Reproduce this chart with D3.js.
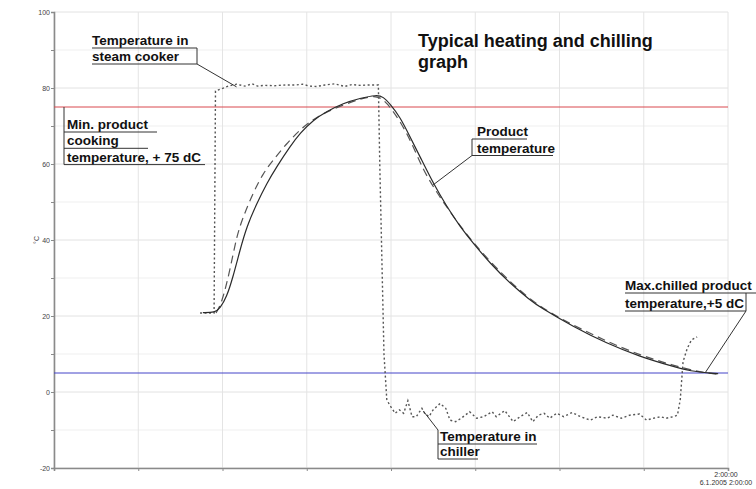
<!DOCTYPE html>
<html>
<head>
<meta charset="utf-8">
<script src="https://cdn.jsdelivr.net/npm/d3@7"></script>
<style>
  body { margin: 0; background: #fff; }
  svg { display: block; font-family: "Liberation Sans", Arial, sans-serif; }
  .callout text { font-size: 13.5px; font-weight: bold; fill: #111; }
  .callout line { stroke: #333; stroke-width: 1; }
</style>
</head>
<body>
<div id="chart"></div>
<script>
// minutes from start of record, degrees C
const productTime = [106,114.7,118.2,123,127.5,132.5,137.2,144.4,151.5,158.6,168.1,175.2,184.7,194.2,206,217.9,229.8,234.5,239.3,246.4,253.5,260.7,270.1,279.7,289.2,298.6,310.5,324.8,339,346.1,369.8,393.6,417.3,441.1,452.9,469.6,473];
const productTemp = [20.9,20.9,22,25,30.3,37.4,43.5,49.6,54.9,59.3,64.6,68.1,71.6,73.8,76,77.3,78.2,77.7,75.8,72.4,67.2,61.9,54.9,48.8,43.5,39.1,33.9,28.6,24.2,22.3,17.2,12.8,9.3,6.7,5.5,4.9,4.8];

const probe2Time = [115.4,119.6,125.3,130,134.6,141.7,148.8,156,165.7,175.2,184.5,196.6,217.9,229.8,236.5,247.6,255.9,263,271.4,282,298.4,324.8,346,369.6,393.8,417.3,440.9,460,472.2];
const probe2Temp = [20.8,23.5,32,40.9,46,52.3,57.5,61,65.4,69,71.8,74.2,77.2,78.1,76.5,70.7,64.6,58.4,53.2,47.4,39.1,28.8,22.3,17.6,13.3,9.7,7,5.2,4.7];

const cabinetTime = [104,114,115,120,124,130,136,141,145,150,157,165,172,177,182,187,193,200,207,212,218,225,231,232,235,237,239,243,246,249,252,255,258,262,264,267,270,275,279,282,286,290,296,301,306,312,315,321,327,332,337,341,345,349,353,358,363,369,375,382,387,394,398,404,410,417,422,427,432,436,441,444,446,447,448,451,454,458];
const cabinetTemp = [20.8,20.8,79.2,79.9,80.5,81,80.5,81.1,80.5,80.7,80.6,80.8,80.8,81,80.5,80.4,80.8,81.1,80.4,80.9,80.7,80.8,80.8,60,10,-2,-3.4,-5.6,-4.7,-5.6,-2.3,-6.5,-6.5,-4.3,-5.6,-6.5,-4.7,-3,-4.3,-7.4,-7.8,-6.9,-5.2,-6.9,-6.5,-5.2,-6.5,-4.9,-7.8,-6.5,-5.4,-7.8,-6.1,-5.6,-6.9,-5.6,-6.5,-5.4,-6.5,-7.4,-6.5,-6.9,-6.1,-6.9,-6.1,-5.8,-7.4,-6.9,-6.5,-6.9,-6.5,-6.1,-2,3,8,11.5,13.7,14.5];

const minCooking = 75;
const maxChilled = 5;

const yTicks = [-20,-10,0,10,20,30,40,50,60,70,80,90,100];
const xTicks = [0,60,120,180,240,300,360,420,480];
const xEndLabel = ["2:00:00", "6.1.2005 2:00:00"];

const titleLines = ["Typical heating and chilling", "graph"];
const steamLabel = ["Temperature in", "steam cooker"];
const minLabel = ["Min. product", "cooking", "temperature, + 75 dC"];
const productLabel = ["Product", "temperature"];
const chilledLabel = ["Max.chilled product", "temperature,+5 dC"];
const chillerLabel = ["Temperature in", "chiller"];

const W = 756, H = 489;
const svg = d3.select("#chart").append("svg")
    .attr("width", W)
    .attr("height", H);

const x = d3.scaleLinear().domain([0, 480]).range([54, 728]);
const y = d3.scaleLinear().domain([-20, 100]).range([468, 12]);

// grid
svg.append("g")
    .selectAll("line")
    .data(yTicks)
    .enter().append("line")
    .attr("x1", x(0)).attr("x2", x(480))
    .attr("y1", d => y(d)).attr("y2", d => y(d))
    .attr("stroke", d => d % 20 == 0 ? "#e2e2e2" : "#efefef")
    .attr("stroke-width", 1);

svg.append("g")
    .selectAll("line")
    .data(xTicks)
    .enter().append("line")
    .attr("x1", d => x(d)).attr("x2", d => x(d))
    .attr("y1", y(100)).attr("y2", y(-20))
    .attr("stroke", "#e4e4e4")
    .attr("stroke-width", 1);

// axes
const yAxis = svg.append("g")
    .attr("transform", `translate(${x(0)},0)`)
    .call(d3.axisLeft(y)
        .tickValues(yTicks)
        .tickSize(3)
        .tickFormat(d => d % 20 == 0 ? d : ""));
yAxis.select(".domain").attr("stroke", "#8a8a8a").attr("stroke-width", 1.6);
yAxis.selectAll(".tick line").attr("stroke", "#8a8a8a");
yAxis.selectAll(".tick text").attr("font-size", "7px").attr("fill", "#444").attr("x", -4);

const xAxis = svg.append("g")
    .attr("transform", `translate(0,${y(-20)})`)
    .call(d3.axisBottom(x)
        .tickValues(xTicks)
        .tickSize(3)
        .tickFormat(""));
xAxis.select(".domain").attr("stroke", "#8a8a8a").attr("stroke-width", 1.6);
xAxis.selectAll(".tick line").attr("stroke", "#8a8a8a");

svg.selectAll(".xend")
    .data(xEndLabel)
    .enter().append("text")
    .attr("class", "xend")
    .attr("x", x(480) - 2)
    .attr("y", (d, i) => y(-20) + 9 + i * 7.5)
    .attr("text-anchor", "middle")
    .attr("font-size", "7px")
    .attr("fill", "#333")
    .text(d => d);

svg.append("text")
    .attr("transform", `translate(39,${y(40)}) rotate(-90)`)
    .attr("text-anchor", "middle")
    .attr("font-size", "7px")
    .attr("fill", "#444")
    .text("°C");

// limit lines
svg.append("line")
    .attr("x1", x(0)).attr("x2", x(480))
    .attr("y1", y(minCooking)).attr("y2", y(minCooking))
    .attr("stroke", "#d9484e").attr("stroke-width", 1);
svg.append("line")
    .attr("x1", x(0)).attr("x2", x(480))
    .attr("y1", y(maxChilled)).attr("y2", y(maxChilled))
    .attr("stroke", "#4545c8").attr("stroke-width", 1);

// series
const line = d3.line()
    .x(d => x(d[0]))
    .y(d => y(d[1]))
    .curve(d3.curveBasis);

svg.append("path")
    .datum(d3.zip(cabinetTime, cabinetTemp))
    .attr("fill", "none")
    .attr("stroke", "#555")
    .attr("stroke-width", 1.4)
    .attr("stroke-dasharray", "2,2.5")
    .attr("d", d3.line().x(d => x(d[0])).y(d => y(d[1])));

svg.append("path")
    .datum(d3.zip(probe2Time, probe2Temp))
    .attr("fill", "none")
    .attr("stroke", "#555")
    .attr("stroke-width", 1.2)
    .attr("stroke-dasharray", "8,5")
    .attr("d", line);

svg.append("path")
    .datum(d3.zip(productTime, productTemp))
    .attr("fill", "none")
    .attr("stroke", "#2a2a2a")
    .attr("stroke-width", 1.2)
    .attr("d", line);

// title
svg.append("g")
    .selectAll("text")
    .data(titleLines)
    .enter().append("text")
    .attr("x", 418)
    .attr("y", (d, i) => 47 + i * 21)
    .attr("font-size", "18px")
    .attr("font-weight", "bold")
    .attr("fill", "#111")
    .text(d => d);

// callouts: text rows with rules under them, a bar on one side and a leader
function callout(lines, opt) {
    const g = svg.append("g").attr("class", "callout");
    lines.forEach((t, i) => {
        const base = opt.top + i * opt.step;
        g.append("text").attr("x", opt.tx).attr("y", base).text(t);
        g.append("line")
            .attr("x1", opt.rule[i][0]).attr("x2", opt.rule[i][1])
            .attr("y1", base + 3).attr("y2", base + 3);
    });
    const lastRule = opt.top + (lines.length - 1) * opt.step + 3;
    g.append("line")
        .attr("x1", opt.bar).attr("x2", opt.bar)
        .attr("y1", opt.barTop).attr("y2", lastRule);
    if (opt.target) {
        g.append("line")
            .attr("x1", opt.from[0]).attr("y1", opt.from[1])
            .attr("x2", x(opt.target[0])).attr("y2", y(opt.target[1]));
    }
}

callout(steamLabel, {
    tx: 92, top: 45, step: 16,
    rule: [[92, 197], [92, 197]],
    bar: 197, barTop: 48,
    from: [197, 64], target: [130, 80.3]
});

callout(minLabel, {
    tx: 67, top: 129, step: 16.3,
    rule: [[64, 157], [64, 148], [64, 205]],
    bar: 64, barTop: y(minCooking)
});

callout(productLabel, {
    tx: 477, top: 136, step: 16.5,
    rule: [[472, 527], [472, 553]],
    bar: 472, barTop: 139,
    from: [472, 155.5], target: [270, 54.5]
});

callout(chilledLabel, {
    tx: 625, top: 290, step: 18,
    rule: [[625, 756], [625, 746]],
    bar: 746, barTop: 293,
    from: [746, 311], target: [464, 5.2]
});

callout(chillerLabel, {
    tx: 440, top: 441, step: 15,
    rule: [[438, 537], [438, 478]],
    bar: 438, barTop: 430,
    from: [438, 430], target: [263, -5]
});
</script>
</body>
</html>
